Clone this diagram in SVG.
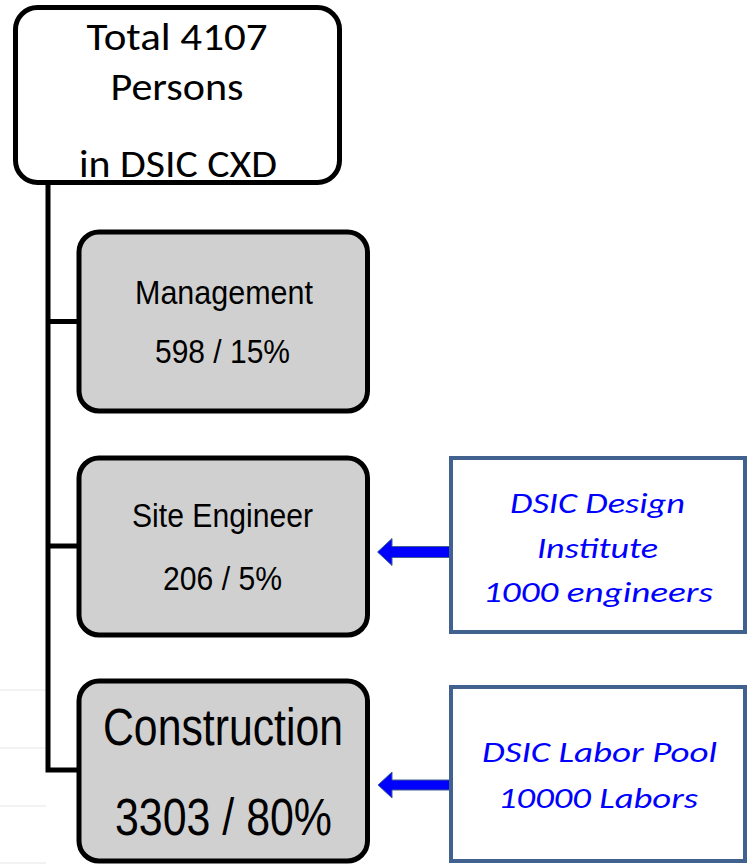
<svg xmlns="http://www.w3.org/2000/svg" width="750" height="865" viewBox="0 0 750 865">
<defs>
<style>
.bg{fill:#ffffff}
.faint{stroke:#eeeeee;stroke-width:1.5}
.top{fill:#ffffff;stroke:#000000;stroke-width:5}
.gray{fill:#d0d0d0;stroke:#000000;stroke-width:5}
.src{fill:#ffffff;stroke:#41618e;stroke-width:4}
.conn{fill:none;stroke:#000000;stroke-width:5;stroke-linejoin:miter}
.arrow{fill:#0000ff;stroke:#41618e;stroke-width:1}
.cal{font-family:Carlito,Lato,"Open Sans",sans-serif;fill:#000000;text-anchor:middle}
.ar{font-family:"Liberation Sans",Arial,sans-serif;fill:#000000;text-anchor:middle}
.bl{font-family:Carlito,Lato,"Open Sans",sans-serif;font-style:italic;fill:#0000ff;text-anchor:middle}
</style>
</defs>
<rect class="bg" x="0" y="0" width="750" height="865"/>
<g id="background-lines">
<line class="faint" x1="0" y1="690" x2="46" y2="690"/>
<line class="faint" x1="0" y1="748" x2="46" y2="748"/>
<line class="faint" x1="0" y1="806" x2="46" y2="806"/>
<line class="faint" x1="0" y1="863" x2="46" y2="863"/>
</g>
<g id="connectors">
<polyline class="conn" points="48,184 48,770 80,770"/>
<line class="conn" x1="48" y1="321.5" x2="80" y2="321.5"/>
<line class="conn" x1="48" y1="546" x2="80" y2="546"/>
<path class="arrow" d="M451,546.5 L392,546.5 L392,538.5 L377.5,552 L392,565.5 L392,557.5 L451,557.5 Z"/>
<path class="arrow" d="M451,780 L392,780 L392,772 L378,785 L392,798 L392,790 L451,790 Z"/>
</g>
<g id="node-total">
<rect class="top" x="15.5" y="7.5" width="324" height="175" rx="22" ry="22"/>
<text class="cal" x="177" y="50" font-size="38" textLength="181" lengthAdjust="spacingAndGlyphs">Total 4107</text>
<text class="cal" x="177" y="100" font-size="38" textLength="133" lengthAdjust="spacingAndGlyphs">Persons</text>
<text class="cal" x="178" y="177" font-size="38" textLength="198" lengthAdjust="spacingAndGlyphs">in DSIC CXD</text>
</g>
<g id="node-management">
<rect class="gray" x="79" y="232" width="288.5" height="179" rx="20" ry="20"/>
<text class="ar" x="224" y="304" font-size="33" textLength="178" lengthAdjust="spacingAndGlyphs">Management</text>
<text class="ar" x="222.5" y="363" font-size="33" textLength="135" lengthAdjust="spacingAndGlyphs">598 / 15%</text>
</g>
<g id="node-site-engineer">
<rect class="gray" x="79" y="458" width="288.5" height="177" rx="20" ry="20"/>
<text class="ar" x="222.5" y="527" font-size="33" textLength="181" lengthAdjust="spacingAndGlyphs">Site Engineer</text>
<text class="ar" x="222.5" y="590" font-size="33" textLength="119" lengthAdjust="spacingAndGlyphs">206 / 5%</text>
</g>
<g id="node-construction">
<rect class="gray" x="79" y="681" width="288.5" height="180" rx="20" ry="20"/>
<text class="ar" x="223" y="745" font-size="51" textLength="240" lengthAdjust="spacingAndGlyphs">Construction</text>
<text class="ar" x="223.5" y="835" font-size="51" textLength="217" lengthAdjust="spacingAndGlyphs">3303 / 80%</text>
</g>
<g id="node-design-institute">
<rect class="src" x="451" y="458" width="294" height="174"/>
<text class="bl" x="597.5" y="513" font-size="29" textLength="175" lengthAdjust="spacingAndGlyphs">DSIC Design</text>
<text class="bl" x="597.5" y="558" font-size="29" textLength="121" lengthAdjust="spacingAndGlyphs">Institute</text>
<text class="bl" x="598" y="602" font-size="29" textLength="230" lengthAdjust="spacingAndGlyphs">1000 engineers</text>
</g>
<g id="node-labor-pool">
<rect class="src" x="451" y="687" width="294" height="174"/>
<text class="bl" x="599.5" y="762" font-size="29" textLength="235" lengthAdjust="spacingAndGlyphs">DSIC Labor Pool</text>
<text class="bl" x="598" y="808" font-size="29" textLength="200" lengthAdjust="spacingAndGlyphs">10000 Labors</text>
</g>
</svg>
